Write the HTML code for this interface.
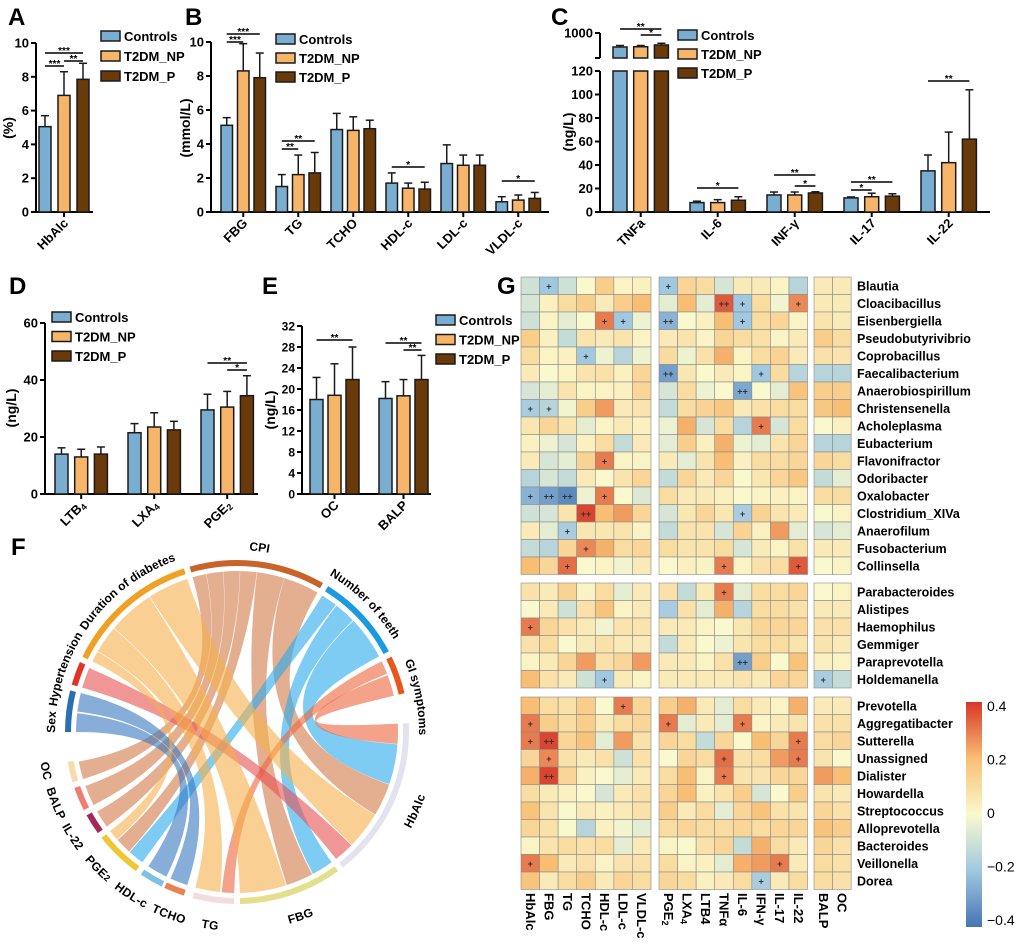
<!DOCTYPE html>
<html><head><meta charset="utf-8">
<style>
html,body{margin:0;padding:0;background:#fff;}
svg{display:block;font-family:"Liberation Sans",Arial,sans-serif;}
.b{font-weight:bold;}
</style></head>
<body>
<svg id="fig" width="1020" height="945" viewBox="0 0 1020 945">
<g font-weight="bold" font-size="24" fill="#000">
<text x="8" y="25">A</text>
<text x="185" y="25">B</text>
<text x="551" y="25">C</text>
<text x="9" y="294">D</text>
<text x="262" y="294">E</text>
<text x="497" y="294">G</text>
<text x="11" y="555">F</text>
</g>
</svg>
<script>
// ---------- Panel A data ----------
const aCats = ["HbAlc"];
const aCtrl = [5.05], aCtrlErr = [0.65];
const aNP = [6.9], aNPErr = [1.4];
const aP = [7.85], aPErr = [0.95];
const aTicks = [0, 2, 4, 6, 8, 10];
// ---------- Panel B data ----------
const bCats = ["FBG", "TG", "TCHO", "HDL-c", "LDL-c", "VLDL-c"];
const bCtrl = [5.1, 1.5, 4.85, 1.7, 2.85, 0.6], bCtrlErr = [0.45, 0.7, 0.95, 0.6, 1.1, 0.3];
const bNP = [8.3, 2.2, 4.8, 1.4, 2.75, 0.7], bNPErr = [1.6, 1.15, 0.8, 0.3, 0.6, 0.3];
const bP = [7.9, 2.3, 4.9, 1.35, 2.75, 0.8], bPErr = [1.45, 1.2, 0.5, 0.4, 0.6, 0.35];
const bTicks = [0, 2, 4, 6, 8, 10];
// ---------- Panel C data ----------
const cCats = ["TNFa", "IL-6", "INF-γ", "IL-17", "IL-22"];
const cCtrl = [720, 8, 14.5, 12, 35], cCtrlErr = [30, 1.2, 2.5, 0.8, 13.5];
const cNP = [725, 8, 14.5, 13, 42], cNPErr = [25, 2.5, 2.5, 3, 26];
const cP = [760, 10, 16.2, 13.5, 62], cPErr = [35, 3, 1, 2, 42];
const cTicks = [0, 20, 40, 60, 80, 100, 120];
// ---------- Panel D data ----------
const dCats = ["LTB|4", "LXA|4", "PGE|2"];
const dCtrl = [14, 21.5, 29.5], dCtrlErr = [2.2, 3.2, 5.5];
const dNP = [13, 23.5, 30.5], dNPErr = [2.7, 5, 5.5];
const dP = [14, 22.5, 34.5], dPErr = [2.5, 3, 7];
const dTicks = [0, 20, 40, 60];
// ---------- Panel E data ----------
const eCats = ["OC", "BALP"];
const eCtrl = [18, 18.2], eCtrlErr = [4.2, 3.2];
const eNP = [18.8, 18.7], eNPErr = [6, 3.1];
const eP = [21.8, 21.8], ePErr = [6.2, 4.6];
const eTicks = [0, 4, 8, 12, 16, 20, 24, 28, 32];
// significance brackets: [group, fromBar, toBar, yPx, label]
const aSig = [[0,0,2,53,"***"],[0,0,1,66,"***"],[0,1,2,61,"**"]];
const bSig = [[0,0,2,34,"***"],[0,0,1,42,"***"],[1,0,2,141,"**"],[1,0,1,149,"**"],[3,0,2,167,"*"],[5,0,2,181,"*"]];
const cSig = [[0,0,2,29,"**"],[0,1,2,35,"*"],[1,0,2,188,"*"],[2,0,2,175,"**"],[2,1,2,186,"*"],[3,0,2,182,"**"],[3,0,1,190,"*"],[4,0,2,81,"**"]];
const dSig = [[2,0,2,363,"**"],[2,1,2,370,"*"]];
const eSig = [[0,0,2,340,"**"],[1,0,2,343,"**"],[1,1,2,350,"**"]];

// ---------- Heatmap data ----------
const hmRows = ["Blautia","Cloacibacillus","Eisenbergiella","Pseudobutyrivibrio","Coprobacillus","Faecalibacterium","Anaerobiospirillum","Christensenella","Acholeplasma","Eubacterium","Flavonifractor","Odoribacter","Oxalobacter","Clostridium_XIVa","Anaerofilum","Fusobacterium","Collinsella",
"Parabacteroides","Alistipes","Haemophilus","Gemmiger","Paraprevotella","Holdemanella",
"Prevotella","Aggregatibacter","Sutterella","Unassigned","Dialister","Howardella","Streptococcus","Alloprevotella","Bacteroides","Veillonella","Dorea"];
const hmCols1 = ["HbAlc","FBG","TG","TCHO","HDL-c","LDL-c","VLDL-c"];
const hmCols2 = ["PGE|2","LXA|4","LTB4","TNFα","IL-6","IFN-γ","IL-17","IL-22"];
const hmCols3 = ["BALP","OC"];
const hmVals = [
[-0.1,-0.2,-0.1,0,0.15,0.02,0.03, -0.2,0.12,0.1,-0.08,0.05,0.05,0.02,-0.15, 0.05,0.05],
[-0.08,0.03,0.1,0.15,0.05,0.15,0.2, -0.05,0.2,-0.05,0.35,-0.2,0.1,-0.02,0.28, 0.05,0.05],
[-0.1,0.02,-0.05,0,0.3,-0.2,-0.03, -0.25,0,0.03,0.2,-0.2,0.1,0.12,0.02, 0.07,0.05],
[0.15,0.03,-0.12,0.07,0.05,0.07,0.02, 0.05,0.07,0.02,0.12,0.1,0.08,0.02,0.05, 0.15,0.1],
[0.1,0.02,0.03,-0.2,-0.03,-0.15,-0.03, 0.1,-0.03,0.08,0.22,0.02,0.1,0.13,0.05, 0.08,0.07],
[0.05,0,0.02,0.07,0.08,0.03,0.12, -0.3,0.06,0,0.05,0.02,-0.2,0.1,-0.15, -0.15,-0.15],
[-0.08,-0.05,0.07,0.02,0.02,0.03,0.12, -0.08,0.1,-0.03,0,-0.28,0,-0.05,0.18, 0.15,0.15],
[-0.18,-0.15,-0.02,0.15,0.25,0.05,0.07, -0.12,0.1,0.13,0.17,0.05,0.08,0.1,0.1, 0.17,0.2],
[0.06,0.12,0.07,-0.05,0.02,0.05,0.03, -0.03,0.22,-0.08,0.1,-0.15,0.3,-0.08,0.1, 0,0.03],
[0.03,-0.03,-0.08,0.03,0.1,-0.12,0.05, -0.05,0.15,0.03,0.22,-0.03,-0.05,0.07,0.12, -0.15,-0.15],
[0.05,-0.08,-0.05,0.13,0.3,0.02,0.02, 0.05,-0.05,0.07,0.2,0.03,0.1,0.1,0.12, 0.12,0.1],
[-0.15,-0.08,-0.12,0.05,0,0.07,0.12, -0.12,0.12,0.05,0.12,0,0.06,0.12,0.17, -0.12,-0.05],
[-0.25,-0.3,-0.35,-0.03,0.3,0,-0.07, 0.1,0.05,0.05,0.03,0,0.02,0.03,0.02, 0.1,0.1],
[-0.1,-0.08,0.07,0.38,0.2,0.25,0.12, -0.08,0.06,0.12,0.06,-0.18,0.13,0.07,0.05, 0,0.02],
[0.05,-0.05,-0.18,0.06,0.06,0.07,0.02, -0.12,0.07,0.07,-0.08,0.13,0.03,0.25,-0.05, -0.08,-0.05],
[-0.12,-0.15,0.12,0.28,0.22,0.1,0.12, 0.1,0.07,0.07,0.1,-0.08,0.05,0.02,0.08, 0.05,0.05],
[0.2,0.12,0.32,0,0.02,-0.02,0.05, 0,0.03,0.02,0.3,0.02,0.08,0.1,0.35, 0,0.02],
[0.08,0.05,0.13,0.02,0.1,-0.05,0.05, 0.08,-0.12,0.05,0.3,-0.05,0.1,0.1,0.12, 0,0.02],
[0,0.05,-0.1,0.08,0.18,0.02,0.05, -0.18,0.08,-0.05,0.22,-0.15,0.1,0.1,0.08, 0.05,0.05],
[0.3,0.12,0.08,0.05,-0.02,0.07,0.07, 0.05,0.05,0.02,0,0.06,0.12,0.12,0.12, 0.08,0.08],
[0.08,0.1,0,0.05,0.08,0.05,0.05, -0.12,0.05,0,-0.03,0.07,0.1,0.1,0.07, 0.07,0.05],
[0.02,0.05,0.12,0.25,0.08,0.12,0.25, 0.05,0.05,0.02,0.08,-0.3,0.15,0,0.18, 0.03,0.02],
[0.2,0.08,0.05,-0.1,-0.2,0.05,0.02, 0.05,0.05,0.05,0.05,0.07,0.05,0.12,0.12, -0.18,-0.12],
[0.2,0.1,0.08,0.15,0,0.3,0.12, 0.15,0.22,0.05,-0.05,0.1,0.05,0.02,0.22, 0.05,0.05],
[0.3,0.15,0.1,0.15,0.05,0.1,0.12, 0.3,-0.05,0.05,-0.05,0.3,0.02,0.05,0.07, 0.08,0.08],
[0.3,0.38,0.12,0.18,-0.05,0.25,0.08, 0.12,0.1,-0.12,0.12,0,0.2,0.12,0.3, 0.1,0.12],
[0.12,0.28,0.08,0.05,0.08,-0.1,0.08, 0,0.12,0.1,0.32,0.08,0.1,0.25,0.3, 0.07,0],
[0.22,0.38,0.12,0.03,0,-0.05,0.05, 0.1,0.2,0.02,0.3,0.07,0.07,0.12,0.12, 0.25,0.2],
[0.1,0.05,0.03,0,-0.08,0.05,0.08, 0.12,0.2,0.03,0.07,0.15,-0.08,0,0.15, 0.07,0.05],
[0.18,0.07,0,0.05,0.03,0.05,0.08, 0.15,0.05,0.1,-0.05,0.12,0.18,0.08,0.07, 0.12,0.08],
[0.12,0.08,0,-0.15,0.03,-0.02,-0.05, 0.1,0.12,0.1,0.1,0.12,0.1,0.12,0.12, 0.18,0.15],
[0.02,0.07,0.1,0.08,0.1,-0.05,0.05, 0.02,0,0.08,0.12,-0.12,0.22,0.1,0.05, 0.12,0.08],
[0.3,0.2,0.05,0.08,0.02,0.07,0.08, 0.1,0.02,0.03,-0.05,0.22,0.25,0.3,0.05, 0.1,0.08],
[0.18,0.05,0.1,0.15,0.05,0.12,0.1, 0.12,0.1,0.03,0.05,0.1,-0.18,0.05,0.1, 0.1,0.08]
];
const hmSig = [
"01000001000000000","00000000002100100","00001102000100000","00000000000000000","00010000000000000",
"00000002000010000","00000000000200000","11000000000000000","00000000000010000","00000000000000000",
"00001000000000000","00000000000000000","12201000000000000","00020000000100000","00100000000000000",
"00010000000000000","00100000001000100",
"00000000001000000","00000000000000000","10000000000000000","00000000000000000","00000000000200000","00001000000000010",
"00000100000000000","10000001000100000","12000000000000100","01000000001000100","02000000001000000",
"00000000000000000","00000000000000000","00000000000000000","00000000000000000","10000000000001000","00000000000010000"
];
const cbTicks = [0.4, 0.2, 0, -0.2, -0.4];

// ---------- Chord data ----------
const chordNodes = ["CPI","Number of teeth","GI symptoms","HbAlc","FBG","TG","TCHO","HDL-c","PGE2","IL-22","BALP","OC","Sex","Hypertension","Duration of diabetes"];
const chordLinkSrc = ["CPI","CPI","CPI","CPI","CPI","CPI","Number of teeth","Number of teeth","Number of teeth","GI symptoms","GI symptoms","Sex","Sex","Hypertension","Duration of diabetes","Duration of diabetes","Duration of diabetes","Duration of diabetes"];
const chordLinkTgt = ["OC","BALP","IL-22","PGE2","FBG","HbAlc","PGE2","FBG","HbAlc","TG","HbAlc","TCHO","HDL-c","HbAlc","PGE2","TG","FBG","HbAlc"];
const chordLinkVal = [5,6,6,6,10,13,6,8,16,5,8,7,7,8,4,10,17,15];

const NS = "http://www.w3.org/2000/svg";
const svg = document.getElementById("fig");
function mk(tag, attrs, parent) {
  const e = document.createElementNS(NS, tag);
  for (const k in attrs) e.setAttribute(k, attrs[k]);
  (parent || svg).appendChild(e);
  return e;
}
function subLabel(t, label, small) {
  const parts = label.split("|");
  t.textContent = parts[0];
  if (parts[1]) {
    const ts = mk("tspan", {"font-size": small || 9, dy: 2}, t);
    ts.textContent = parts[1];
  }
}
const COLORS = ["#7aaed0", "#f7b56a", "#6b3a0a"];
const SERIES_NAMES = ["Controls", "T2DM_NP", "T2DM_P"];

function barPanel(id, cats, series, errs, ticks, sig, g) {
  const grp = mk("g", {});
  
  
  const yOf = v => g.y0 - v * g.ppu;
  const yax = mk("line", {x1: g.axisX, x2: g.axisX, y1: g.yTopAxis, y2: g.y0, stroke: "#000", "stroke-width": 2}, grp);
  
  
  const xax = mk("line", {x1: g.axisX - 1, x2: g.axisEnd, y1: g.y0, y2: g.y0, stroke: "#000", "stroke-width": 2}, grp);
  
  
  ticks.forEach(t => {
    const y = yOf(t);
    mk("line", {x1: g.axisX - 5, x2: g.axisX, y1: y, y2: y, stroke: "#000", "stroke-width": 2}, grp);
    const tl = mk("text", {x: g.axisX - 7, y: y + 4.5, "text-anchor": "end", "font-size": g.tickFs || 13, "font-weight": "bold"}, grp);
    
    
    tl.textContent = t;
  });
  const yt = mk("text", {x: 0, y: 0, transform: `translate(${g.titleX},${g.titleY}) rotate(-90)`, "text-anchor": "middle", "font-size": 14, "font-weight": "bold"}, grp);
  
  
  yt.textContent = g.title;
  cats.forEach((c, i) => {
    const gx = g.first + i * g.groupStep;
    series.forEach((vals, s) => {
      const v = vals[i], e = errs[s][i];
      const x = gx + s * g.barStep;
      const cxm = x + g.barW / 2;
      let top;
      if (g.brk && v > g.brk.lowMax) {
        const rl = mk("rect", {x: x, y: yOf(g.brk.lowMax), width: g.barW, height: g.y0 - yOf(g.brk.lowMax), fill: COLORS[s], stroke: "#1a1a1a", "stroke-width": 1.5}, grp);
        
        
        top = g.brk.yOf(v);
        const ru = mk("rect", {x: x, y: top, width: g.barW, height: g.brk.base - top, fill: COLORS[s], stroke: "#1a1a1a", "stroke-width": 1.5}, grp);
        
        
        const et = g.brk.yOf(v + e);
        mk("line", {x1: cxm, x2: cxm, y1: top, y2: et, stroke: "#1a1a1a", "stroke-width": 1.5}, grp);
        mk("line", {x1: cxm - 4, x2: cxm + 4, y1: et, y2: et, stroke: "#1a1a1a", "stroke-width": 1.5}, grp);
        return;
      }
      top = yOf(v);
      const et = yOf(v + e);
      mk("line", {x1: cxm, x2: cxm, y1: top, y2: et, stroke: "#1a1a1a", "stroke-width": 1.5}, grp);
      mk("line", {x1: cxm - 4, x2: cxm + 4, y1: et, y2: et, stroke: "#1a1a1a", "stroke-width": 1.5}, grp);
      const r = mk("rect", {x: x, y: top, width: g.barW, height: g.y0 - top, fill: COLORS[s], stroke: "#1a1a1a", "stroke-width": 1.5}, grp);
      
      
    });
    const mid = gx + g.barStep + g.barW / 2;
    mk("line", {x1: mid, x2: mid, y1: g.y0, y2: g.y0 + 5, stroke: "#000", "stroke-width": 2}, grp);
    const xl = mk("text", {x: 0, y: 0, transform: `translate(${mid + 5},${g.y0 + 12}) rotate(-45)`, "text-anchor": "end", "font-size": 13, "font-weight": "bold"}, grp);
    
    
    subLabel(xl, c);
  });
  sig.forEach(sg => {
    const gx = g.first + sg[0] * g.groupStep;
    const x1 = gx + sg[1] * g.barStep + g.barW / 2, x2 = gx + sg[2] * g.barStep + g.barW / 2;
    const l = mk("line", {x1: x1, x2: x2, y1: sg[3], y2: sg[3], stroke: "#000", "stroke-width": 1.6}, grp);
    
    
    const st = mk("text", {x: (x1 + x2) / 2, y: sg[3] + 1, "text-anchor": "middle", "font-size": 10, "font-weight": "bold"}, grp);
    
    
    st.textContent = sg[4];
  });
  const lg = mk("g", {}, grp);
  
  
  SERIES_NAMES.forEach((n, s) => {
    const y = g.legY + s * g.legStep;
    const r = mk("rect", {x: g.legX, y: y - 5, width: 19, height: 10, fill: COLORS[s], stroke: "#1a1a1a", "stroke-width": 1.5}, lg);
    
    
    const t = mk("text", {x: g.legX + 23, y: y + 5, "font-size": 13, "font-weight": "bold"}, lg);
    
    
    t.textContent = n;
  });
  return grp;
}

barPanel("panel-a", aCats, [aCtrl, aNP, aP], [aCtrlErr, aNPErr, aPErr], aTicks, aSig,
  {axisX: 36, axisEnd: 93, y0: 212, ppu: 16.9, yTopAxis: 43, first: 39, groupStep: 55, barStep: 19, barW: 12,
   title: "(%)", titleX: 13, titleY: 128, legX: 101, legY: 36, legStep: 20});
barPanel("panel-b", bCats, [bCtrl, bNP, bP], [bCtrlErr, bNPErr, bPErr], bTicks, bSig,
  {axisX: 211, axisEnd: 549, y0: 212, ppu: 17, yTopAxis: 42, first: 221, groupStep: 55, barStep: 16.5, barW: 11.5,
   title: "(mmol/L)", titleX: 190, titleY: 128, legX: 276, legY: 39, legStep: 19});
const cBrk = {lowMax: 120, base: 58, yOf: v => 58 - (v - 500) * 0.05};
barPanel("panel-c", cCats, [cCtrl, cNP, cP], [cCtrlErr, cNPErr, cPErr], cTicks, cSig,
  {axisX: 600, axisEnd: 990, y0: 212, ppu: 1.175, yTopAxis: 71, first: 613, groupStep: 77, barStep: 20.7, barW: 14,
   title: "(ng/L)", titleX: 573, titleY: 132, legX: 678, legY: 35, legStep: 19, brk: cBrk});
(function(){
  const ua = mk("line", {x1: 600, x2: 600, y1: 33, y2: 58, stroke: "#000", "stroke-width": 2});
  
  
  mk("line", {x1: 595, x2: 600, y1: 33, y2: 33, stroke: "#000", "stroke-width": 2});
  mk("line", {x1: 595, x2: 600, y1: 58, y2: 58, stroke: "#000", "stroke-width": 2});
  const t = mk("text", {x: 593, y: 37.5, "text-anchor": "end", "font-size": 13, "font-weight": "bold"});
  
  
  t.textContent = "1000";
})();
barPanel("panel-d", dCats, [dCtrl, dNP, dP], [dCtrlErr, dNPErr, dPErr], dTicks, dSig,
  {axisX: 45, axisEnd: 258, y0: 494, ppu: 2.85, yTopAxis: 323, first: 55, groupStep: 73, barStep: 19.7, barW: 13,
   title: "(ng/L)", titleX: 16, titleY: 408, legX: 52, legY: 317, legStep: 19.5});
barPanel("panel-e", eCats, [eCtrl, eNP, eP], [eCtrlErr, eNPErr, ePErr], eTicks, eSig,
  {axisX: 302, axisEnd: 431, y0: 494, ppu: 5.25, yTopAxis: 326, first: 310, groupStep: 69, barStep: 18, barW: 13, tickFs: 12,
   title: "(ng/L)", titleX: 275, titleY: 410, legX: 436, legY: 320, legStep: 19.5});

// ---------- Heatmap ----------
const stops = [[-0.4,[69,117,180]],[-0.2,[160,200,224]],[0,[250,249,205]],[0.2,[248,190,115]],[0.4,[215,55,40]]];
function hmColor(v) {
  v = Math.max(-0.4, Math.min(0.4, v));
  for (let i = 0; i < stops.length - 1; i++) {
    const a = stops[i], b = stops[i + 1];
    if (v >= a[0] && v <= b[0]) {
      const t = (v - a[0]) / (b[0] - a[0]);
      const c = a[1].map((x, k) => Math.round(x + (b[1][k] - x) * t));
      return `rgb(${c[0]},${c[1]},${c[2]})`;
    }
  }
  return "#fff";
}
(function(){
  const hm = mk("g", {});
  
  
  const cw = 18.57, rh = 17.5;
  const blockX = [521, 659, 814];
  const blockCols = [hmCols1, hmCols2, hmCols3];
  const rowBlocks = [[0, 17, 277], [17, 6, 583], [23, 11, 697]];
  const colX = [];
  blockCols.forEach((cols, b) => cols.forEach((c, j) => colX.push(blockX[b] + j * cw)));
  rowBlocks.forEach(rb => {
    for (let r = 0; r < rb[1]; r++) {
      const ri = rb[0] + r;
      const y = rb[2] + r * rh;
      hmVals[ri].forEach((v, ci) => {
        const cell = mk("rect", {x: colX[ci], y: y, width: cw, height: rh, fill: hmColor(v), stroke: "#8a8a8a", "stroke-width": 0.6}, hm);
        
        
        const s = hmSig[ri][ci];
        if (s !== "0") {
          const st = mk("text", {x: colX[ci] + cw / 2, y: y + rh / 2 + 3.5, "text-anchor": "middle", "font-size": 9, "font-weight": "bold", fill: "#333"}, hm);
          
          
          st.textContent = s === "1" ? "+" : "++";
        }
      });
      const lab = mk("text", {x: 857, y: y + rh / 2 + 4.5, "font-size": 12.5, "font-weight": "bold"}, hm);
      
      
      lab.textContent = hmRows[ri];
    }
  });
  let ci = 0;
  blockCols.forEach(cols => cols.forEach(c => {
    const x = colX[ci] + cw / 2 - 4.5;
    const t = mk("text", {x: 0, y: 0, transform: `translate(${x},893) rotate(90)`, "font-size": 13, "font-weight": "bold"}, hm);
    
    
    subLabel(t, c);
    ci++;
  }));
  const defs = mk("defs", {});
  const lg = mk("linearGradient", {id: "cbg", x1: 0, y1: 0, x2: 0, y2: 1}, defs);
  for (let i = 0; i <= 16; i++) {
    const v = 0.4 - i * 0.05;
    mk("stop", {offset: (i / 16), "stop-color": hmColor(v)}, lg);
  }
  const cb = mk("rect", {x: 966, y: 702, width: 16, height: 225, fill: "url(#cbg)"}, hm);
  
  
  cbTicks.forEach(t => {
    const y = 706 + (0.4 - t) / 0.8 * 214;
    const tl = mk("text", {x: 987, y: y + 5, "font-size": 14}, hm);
    
    
    tl.textContent = t === 0 ? "0" : (t < 0 ? "\u2212" + Math.abs(t) : String(t));
  });
})();

// ---------- Chord diagram ----------
(function(){
  const cx = 237, cy = 732, R = 161, r0 = 166, r1 = 172;
  const nodeArc = {"CPI":[-16,30],"Number of teeth":[32,62],"GI symptoms":[64,77],"HbAlc":[87,142],"FBG":[144,179],"TG":[181,195],"TCHO":[198,205],"HDL-c":[206,214],"PGE2":[216,232],"IL-22":[234,241],"BALP":[243,251],"OC":[253,260],"Sex":[270,284],"Hypertension":[286,294],"Duration of diabetes":[296,342]};
  const nodeCol = {"CPI":"#c8642a","Number of teeth":"#1a9be0","GI symptoms":"#e8561e","HbAlc":"#e3e3f0","FBG":"#e4df8c","TG":"#f3dcdc","TCHO":"#e8834f","HDL-c":"#7dc2e2","PGE2":"#efc634","IL-22":"#a2285a","BALP":"#ee7d72","OC":"#f5dcaa","Sex":"#2a6fb0","Hypertension":"#e03428","Duration of diabetes":"#f2a024"};
  const ribCol = {"CPI":"rgba(205,110,55,0.55)","Number of teeth":"rgba(40,170,236,0.6)","GI symptoms":"rgba(236,100,60,0.6)","Sex":"rgba(55,120,190,0.6)","Hypertension":"rgba(232,80,80,0.6)","Duration of diabetes":"rgba(245,175,75,0.6)"};
  const rad = d => d * Math.PI / 180;
  const P = (a, r) => [cx + r * Math.sin(rad(a)), cy - r * Math.cos(rad(a))];
  const mid = n => (nodeArc[n][0] + nodeArc[n][1]) / 2;
  const alloc = {};
  chordNodes.forEach(n => {
    const items = [];
    chordLinkSrc.forEach((s, i) => {
      if (s === n) items.push({i: i, side: "s", other: chordLinkTgt[i]});
      if (chordLinkTgt[i] === n) items.push({i: i, side: "t", other: s});
    });
    items.forEach(it => it.rel = ((mid(it.other) - mid(n)) % 360 + 360) % 360);
    items.sort((a, b) => b.rel - a.rel);
    const tot = items.reduce((s, it) => s + chordLinkVal[it.i], 0);
    let a = nodeArc[n][0];
    const span = nodeArc[n][1] - nodeArc[n][0] - 0.6;
    items.forEach(it => {
      const w = chordLinkVal[it.i] / tot * span;
      alloc[it.i + it.side] = [a, a + w];
      a += w + 0.6 / Math.max(1, items.length - 1);
    });
  });
  const cg = mk("g", {});
  
  
  chordLinkSrc.forEach((s, i) => {
    const sa = alloc[i + "s"], ta = alloc[i + "t"];
    const s0 = P(sa[0], R), s1 = P(sa[1], R), t0 = P(ta[0], R), t1 = P(ta[1], R);
    const d = `M${s0} A${R} ${R} 0 0 1 ${s1} Q${cx} ${cy} ${t0} A${R} ${R} 0 0 1 ${t1} Q${cx} ${cy} ${s0} Z`;
    const p = mk("path", {d: d, fill: ribCol[s]}, cg);
    
    
  });
  chordNodes.forEach(n => {
    const a = nodeArc[n];
    const o0 = P(a[0], r1), o1 = P(a[1], r1), i1 = P(a[1], r0), i0 = P(a[0], r0);
    const large = (a[1] - a[0]) > 180 ? 1 : 0;
    const d = `M${o0} A${r1} ${r1} 0 ${large} 1 ${o1} L${i1} A${r0} ${r0} 0 ${large} 0 ${i0} Z`;
    const p = mk("path", {d: d, fill: nodeCol[n]}, cg);
    
    
  });
  const defs = mk("defs", {});
  const rTop = 182, rBot = 190;
  mk("path", {id: "cwPath", d: `M${cx} ${cy - rTop} A${rTop} ${rTop} 0 1 1 ${cx} ${cy + rTop} A${rTop} ${rTop} 0 1 1 ${cx} ${cy - rTop}`}, defs);
  mk("path", {id: "ccwPath", d: `M${cx} ${cy - rBot} A${rBot} ${rBot} 0 1 0 ${cx} ${cy + rBot} A${rBot} ${rBot} 0 1 0 ${cx} ${cy - rBot}`}, defs);
  const topLabels = [["CPI",7],["Number of teeth",45],["GI symptoms",79],["Duration of diabetes",322],["Hypertension",290],["Sex",273]];
  const botLabels = [["HbAlc",114],["FBG",161],["TG",188],["TCHO",200.5],["HDL-c",213],["PGE|2",225.5],["IL-22",237.5],["BALP",248.5],["OC",258.5]];
  const cTop = 2 * Math.PI * rTop, cBot = 2 * Math.PI * rBot;
  topLabels.forEach(l => {
    let ang = l[1]; if (ang < 0) ang += 360;
    const t = mk("text", {"font-size": 12, "font-weight": "bold", "text-anchor": "middle"}, cg);
    
    
    const tp = mk("textPath", {href: "#cwPath", startOffset: (ang / 360 * cTop).toFixed(1)}, t);
    tp.textContent = l[0];
  });
  botLabels.forEach(l => {
    const ang = 360 - l[1];
    const t = mk("text", {"font-size": 12, "font-weight": "bold", "text-anchor": "middle"}, cg);
    
    
    const tp = mk("textPath", {href: "#ccwPath", startOffset: (ang / 360 * cBot).toFixed(1)}, t);
    tp.setAttribute("dominant-baseline", "hanging");
    subLabel(tp, l[0]);
  });
})();
</script>
</body></html>
